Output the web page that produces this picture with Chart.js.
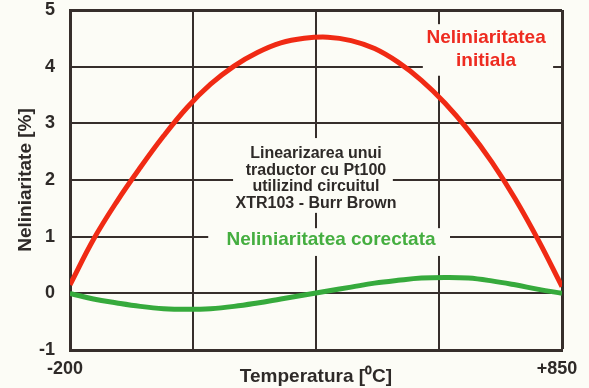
<!DOCTYPE html>
<html>
<head>
<meta charset="utf-8">
<script src="https://cdn.jsdelivr.net/npm/chart.js@4/dist/chart.umd.min.js"></script>
<style>
    html, body { margin: 0; padding: 0; background: #fcfcf6; }
    canvas { display: block; }
</style>
</head>
<body>
<canvas id="lin_chart" width="589" height="388"></canvas>
<script>
// temperature points, degC
const temperatures = [-200, -150, -100, -50, 0, 50, 100, 150, 200, 250, 300,
    350, 400, 450, 500, 550, 600, 650, 700, 750, 800, 850];

// nonlinearity of the bare Pt100, %
const initialError = [0.15, 0.95, 1.62, 2.22, 2.78, 3.28, 3.69, 4.01, 4.25, 4.42, 4.5,
    4.52, 4.46, 4.32, 4.08, 3.76, 3.36, 2.88, 2.32, 1.67, 0.93, 0.12];

// nonlinearity after XTR103 correction, %
const correctedError = [0, -0.1, -0.17, -0.23, -0.27, -0.28, -0.27, -0.23, -0.17, -0.1, -0.03,
    0.04, 0.11, 0.18, 0.23, 0.27, 0.28, 0.27, 0.22, 0.15, 0.07, 0];

const xTickLabels = { '-200': '-200', '850': '+850' };

const gridColor = '#362e2b';
const textColor = '#2e2a28';
const paper = '#fcfcf6';
const boldFont = size => ({ family: "'Liberation Sans', Arial, sans-serif", size: size, weight: 'bold' });

// text blocks written on the grid; each one blanks the grid under it
const notes = [
    { lines: ['Neliniaritatea', 'initiala'], x: 688, y: [4.51, 4.1], color: '#ee2b20', size: 19,
      box: { x0: 553, x1: 831, y0: 4.75, y1: 3.84 } },
    { lines: ['Linearizarea unui', 'traductor cu Pt100', 'utilizind circuitul', 'XTR103 - Burr Brown'],
      x: 325, y: [2.46, 2.17, 1.88, 1.59], color: textColor, size: 16,
      box: { x0: 148, x1: 489, y0: 2.74, y1: 1.42 } },
    { lines: ['Neliniaritatea corectata'], x: 357, y: [0.94], color: '#45ae40', size: 19,
      box: { x0: 95, x1: 611, y0: 1.15, y1: 0.66 } }
];

const notesPlugin = {
    id: 'notes',
    beforeDatasetsDraw(chart) {
        const { ctx, scales: { x, y } } = chart;
        ctx.save();
        notes.forEach(n => {
            const bx = x.getPixelForValue(n.box.x0);
            const by = y.getPixelForValue(n.box.y0);
            ctx.fillStyle = paper;
            ctx.fillRect(bx, by, x.getPixelForValue(n.box.x1) - bx, y.getPixelForValue(n.box.y1) - by);

            ctx.fillStyle = n.color;
            ctx.font = `bold ${n.size}px 'Liberation Sans', Arial, sans-serif`;
            ctx.textAlign = 'center';
            ctx.textBaseline = 'middle';
            n.lines.forEach((line, i) => {
                ctx.fillText(line, x.getPixelForValue(n.x), y.getPixelForValue(n.y[i]));
            });
        });
        ctx.restore();
    }
};

new Chart(document.getElementById('lin_chart'), {
    type: 'line',
    data: {
        labels: temperatures,
        datasets: [{
            label: 'Neliniaritatea initiala',
            data: temperatures.map((t, i) => ({ x: t, y: initialError[i] })),
            borderColor: '#f02a14',
            borderWidth: 5,
            pointRadius: 0,
            tension: 0.4,
            fill: false
        }, {
            label: 'Neliniaritatea corectata',
            data: temperatures.map((t, i) => ({ x: t, y: correctedError[i] })),
            borderColor: '#36aa3c',
            borderWidth: 5,
            pointRadius: 0,
            tension: 0.4,
            fill: false
        }]
    },
    options: {
        responsive: false,
        animation: false,
        devicePixelRatio: 1,
        layout: { padding: { top: 10, right: 27, left: 0, bottom: 0 } },
        plugins: {
            legend: { display: false },
            tooltip: { enabled: false }
        },
        scales: {
            x: {
                type: 'linear',
                min: -200,
                max: 850,
                afterFit: scale => {
                    scale.height = 38;
                    scale.paddingLeft = 0;
                    scale.paddingRight = 0;
                },
                border: { color: gridColor, width: 3 },
                grid: {
                    color: gridColor,
                    lineWidth: c => (c.tick && c.tick.value === 850 ? 3 : 2),
                    drawTicks: false
                },
                ticks: {
                    stepSize: 262.5,
                    autoSkip: false,
                    maxRotation: 0,
                    padding: 8,
                    labelOffset: -5,
                    color: textColor,
                    font: boldFont(18),
                    callback: v => xTickLabels[String(v)] || ''
                },
                title: {
                    display: true,
                    text: 'Temperatura [⁰C]',
                    color: textColor,
                    font: boldFont(19),
                    padding: { top: 0, bottom: 0 }
                }
            },
            y: {
                min: -1,
                max: 5,
                afterFit: scale => {
                    scale.width = 70;
                    scale.paddingTop = 0;
                    scale.paddingBottom = 0;
                },
                border: { color: gridColor, width: 3 },
                grid: {
                    color: gridColor,
                    lineWidth: c => (c.tick && c.tick.value === 5 ? 3 : 2),
                    drawTicks: false
                },
                ticks: {
                    stepSize: 1,
                    padding: 15,
                    color: textColor,
                    font: boldFont(18)
                },
                title: {
                    display: true,
                    text: 'Neliniaritate [%]',
                    color: textColor,
                    font: boldFont(19),
                    padding: { top: 14, bottom: 0 }
                }
            }
        }
    },
    plugins: [notesPlugin]
});
</script>
</body>
</html>
